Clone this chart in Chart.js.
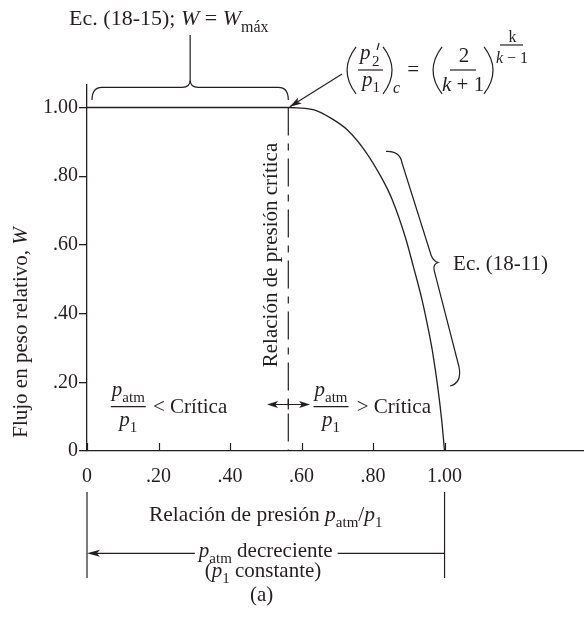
<!DOCTYPE html>
<html>
<head>
<meta charset="utf-8">
<script src="https://cdn.jsdelivr.net/npm/chart.js@4/dist/chart.umd.min.js"></script>
<style>
  html, body { margin: 0; padding: 0; background: #fff; }
  #wrap { width: 584px; height: 618px; position: relative; }
</style>
</head>
<body>
<div id="wrap"><canvas id="flow-chart"></canvas></div>
<script>
// ─── DATA ───────────────────────────────────────────────────────────────────────
var xTickValues = [0, 0.2, 0.4, 0.6, 0.8, 1.0];
var xTickLabels = ['0', '.20', '.40', '.60', '.80', '1.00'];
var yTickValues = [0, 0.2, 0.4, 0.6, 0.8, 1.0];
var yTickLabels = ['0', '.20', '.40', '.60', '.80', '1.00'];
var criticalRatio = 0.563;
// pressure ratio p_atm/p1 and relative weight flow W
var pressureRatio = [0, 0.563, 0.589, 0.635, 0.682, 0.729, 0.776, 0.824, 0.854, 0.891, 0.913, 0.937, 0.955, 0.967, 0.981, 0.992, 1.0];
var relativeFlow = [1, 1, 0.999, 0.993, 0.969, 0.934, 0.876, 0.795, 0.731, 0.620, 0.536, 0.440, 0.352, 0.285, 0.186, 0.090, 0];

var INK = '#231f20';
var SERIF = '"Liberation Serif", "Times New Roman", serif';
var TEXT = 21;

// ─── TEXT HELPERS ───────────────────────────────────────────────────────────────
function fontOf(size, italic) {
    return (italic ? 'italic ' : '') + size + 'px ' + SERIF;
}
function T(t) { return { t: t }; }
function I(t) { return { t: t, i: true }; }
function S(t) { return { t: t, s: true }; }
function runSize(r, size) { return r.s ? Math.round(size * 0.72) : size; }
function runsWidth(ctx, runs, size) {
    var w = 0;
    runs.forEach(function (r) {
        ctx.font = fontOf(runSize(r, size), r.i);
        w += ctx.measureText(r.t).width;
    });
    return w;
}
function drawRuns(ctx, x, y, runs, size, align) {
    var w = runsWidth(ctx, runs, size);
    var cx = align === 'center' ? x - w / 2 : (align === 'right' ? x - w : x);
    ctx.textAlign = 'left';
    ctx.textBaseline = 'alphabetic';
    runs.forEach(function (r) {
        ctx.font = fontOf(runSize(r, size), r.i);
        ctx.fillText(r.t, cx, y + (r.s ? size * 0.3 : 0));
        cx += ctx.measureText(r.t).width;
    });
    return w;
}
function line(ctx, x1, y1, x2, y2) {
    ctx.beginPath();
    ctx.moveTo(x1, y1);
    ctx.lineTo(x2, y2);
    ctx.stroke();
}
function arrowHead(ctx, x1, y1, x2, y2, len, half) {
    var a = Math.atan2(y2 - y1, x2 - x1);
    var bx = x2 - len * Math.cos(a), by = y2 - len * Math.sin(a);
    ctx.beginPath();
    ctx.moveTo(x2, y2);
    ctx.lineTo(bx + half * Math.sin(a), by - half * Math.cos(a));
    ctx.lineTo(bx + len * 0.25 * Math.cos(a), by + len * 0.25 * Math.sin(a));
    ctx.lineTo(bx - half * Math.sin(a), by + half * Math.cos(a));
    ctx.closePath();
    ctx.fill();
}
// x0 = outermost point of the bow, x1 = x of the two ends
function paren(ctx, x0, x1, top, bottom) {
    ctx.beginPath();
    ctx.moveTo(x1, top);
    ctx.quadraticCurveTo(2 * x0 - x1, (top + bottom) / 2, x1, bottom);
    ctx.stroke();
}
function fraction(ctx, cx, barY, numRuns, denRuns) {
    var w = Math.max(runsWidth(ctx, numRuns, TEXT), runsWidth(ctx, denRuns, TEXT)) + 2;
    drawRuns(ctx, cx, barY - 11, numRuns, TEXT, 'center');
    drawRuns(ctx, cx, barY + 19, denRuns, TEXT, 'center');
    line(ctx, cx - w / 2, barY, cx + w / 2, barY);
    return w;
}

// ─── ANNOTATIONS ────────────────────────────────────────────────────────────────
var annotations = {
    id: 'annotations',
    afterDraw: function (chart) {
        var ctx = chart.ctx;
        var xs = chart.scales.x, ys = chart.scales.y;
        var X = function (v) { return xs.getPixelForValue(v); };
        var Y = function (v) { return ys.getPixelForValue(v); };
        ctx.save();
        ctx.fillStyle = INK;
        ctx.strokeStyle = INK;
        ctx.lineWidth = 1.2;

        // inward ticks on the x axis
        xTickValues.forEach(function (v) {
            line(ctx, Math.round(X(v)) + 0.5, Y(0), Math.round(X(v)) + 0.5, Y(0) - 8);
        });

        // top label and brace over the constant-flow part
        drawRuns(ctx, X(-0.05), Y(1.240), [T('Ec. (18-15); '), I('W'), T(' = '), I('W'), S('máx')], 22, 'left');
        var bx1 = X(0.014), bx2 = X(criticalRatio), bm = (bx1 + bx2) / 2;
        var bEnd = Y(1.0218), bMid = Y(1.0588), bTip = Y(1.080);
        ctx.beginPath();
        ctx.moveTo(bx1, bEnd);
        ctx.quadraticCurveTo(bx1, bMid, bx1 + 10, bMid);
        ctx.lineTo(bm - 8, bMid);
        ctx.quadraticCurveTo(bm, bMid, bm, bTip);
        ctx.quadraticCurveTo(bm, bMid, bm + 8, bMid);
        ctx.lineTo(bx2 - 10, bMid);
        ctx.quadraticCurveTo(bx2, bMid, bx2, bEnd);
        ctx.stroke();
        line(ctx, bm, bTip, bm, Y(1.211));

        // critical ratio formula
        var ax = X(0.7273), ay = Y(1.1092);
        paren(ctx, ax, ax + 9, ay - 23, ay + 24);
        drawRuns(ctx, ax + 13, ay - 10.5, [I('p')], TEXT, 'left');
        drawRuns(ctx, ax + 25, ay - 10.5, [S('2')], TEXT, 'left');
        line(ctx, ax + 32, ay - 27, ax + 30, ay - 20);
        line(ctx, ax + 11, ay, ax + 36, ay);
        drawRuns(ctx, ax + 15, ay + 16, [I('p'), S('1')], TEXT, 'left');
        paren(ctx, ax + 45, ax + 36, ay - 23, ay + 24);
        drawRuns(ctx, ax + 46, ay + 23, [I('c')], 16, 'left');
        drawRuns(ctx, ax + 66, ay + 6, [T('=')], TEXT, 'center');
        paren(ctx, ax + 86, ax + 95, ay - 23, ay + 24);
        drawRuns(ctx, ax + 117, ay - 8, [T('2')], TEXT, 'center');
        line(ctx, ax + 103, ay, ax + 129, ay);
        drawRuns(ctx, ax + 116, ay + 21, [I('k'), T(' + 1')], TEXT, 'center');
        paren(ctx, ax + 146, ax + 137, ay - 23, ay + 24);
        drawRuns(ctx, ax + 165.5, ay - 28, [T('k')], 16, 'center');
        line(ctx, ax + 153, ay - 25, ax + 176, ay - 25);
        drawRuns(ctx, ax + 165, ay - 7, [I('k'), T(' \u2212 1')], 16, 'center');

        // arrow from formula to the critical point
        var fx1 = X(0.7133), fy1 = Y(1.0975), fx2 = X(criticalRatio) + 1.5, fy2 = Y(1.002);
        line(ctx, fx1, fy1, fx2, fy2);
        arrowHead(ctx, fx1, fy1, fx2, fy2, 12, 3.5);

        // rotated labels
        ctx.save();
        ctx.translate(X(0.530), Y(0.5706));
        ctx.rotate(-Math.PI / 2);
        drawRuns(ctx, 0, 0, [T('Relación de presión crítica')], TEXT, 'center');
        ctx.restore();
        ctx.save();
        ctx.translate(X(-0.169), Y(0.345));
        ctx.rotate(-Math.PI / 2);
        drawRuns(ctx, 0, 0, [T('Flujo en peso relativo, '), I('W')], TEXT, 'center');
        ctx.restore();

        // sub- and super-critical labels
        var fy = Y(0.129);
        fraction(ctx, X(0.1155), fy, [I('p'), S('atm')], [I('p'), S('1')]);
        drawRuns(ctx, X(0.1846), fy + 6.6, [T('< Crítica')], TEXT, 'left');
        fraction(ctx, X(0.6825), fy, [I('p'), S('atm')], [I('p'), S('1')]);
        drawRuns(ctx, X(0.7544), fy + 6.6, [T('> Crítica')], TEXT, 'left');
        var dy = Y(0.1354), dx1 = X(0.5035), dx2 = X(0.6238);
        line(ctx, dx1 + 4, dy, dx2 - 4, dy);
        arrowHead(ctx, dx2, dy, dx1, dy, 11, 3.5);
        arrowHead(ctx, dx1, dy, dx2, dy, 11, 3.5);
        line(ctx, X(criticalRatio), dy - 5, X(criticalRatio), dy + 5);

        // brace along the falling curve
        var tx = X(0.9818), ty = Y(0.5488);
        ctx.beginPath();
        ctx.moveTo(tx - 52, ty - 111);
        ctx.quadraticCurveTo(tx - 38, ty - 111.5, tx - 36, ty - 99.5);
        ctx.lineTo(tx - 7, ty - 7.5);
        ctx.quadraticCurveTo(tx - 5, ty - 1.5, tx, ty);
        ctx.quadraticCurveTo(tx - 5, ty + 1.5, tx - 4, ty + 7.5);
        ctx.lineTo(tx + 21, ty + 104.5);
        ctx.quadraticCurveTo(tx + 24, ty + 120.5, tx + 12, ty + 123.5);
        ctx.stroke();
        drawRuns(ctx, X(1.0238), Y(0.527), [T('Ec. (18-11)')], TEXT, 'left');

        // lower explanation block
        var vTop = Y(-0.1194), vBot = Y(-0.3697);
        line(ctx, X(0), vTop, X(0), vBot);
        line(ctx, X(1), vTop, X(1), vBot);
        drawRuns(ctx, X(0.5), Y(-0.203), [T('Relación de presión '), I('p'), S('atm'), T('/'), I('p'), S('1')], 21.5, 'center');
        var ly = Y(-0.2978);
        var tw = drawRuns(ctx, X(0.5), Y(-0.3077), [I('p'), S('atm'), T(' decreciente')], TEXT, 'center');
        line(ctx, X(0) + 6, ly, X(0.5) - tw / 2 - 4, ly);
        line(ctx, X(0.5) + tw / 2 + 5, ly, X(1), ly);
        arrowHead(ctx, X(0) + 20, ly, X(0), ly, 13, 3.5);
        drawRuns(ctx, X(0.4923), Y(-0.366), [T('('), I('p'), S('1'), T(' constante)')], TEXT, 'center');
        drawRuns(ctx, X(0.4886), Y(-0.4367), [T('(a)')], TEXT, 'center');

        ctx.restore();
    }
};

// ─── CHART ──────────────────────────────────────────────────────────────────────
var ctx = document.getElementById('flow-chart').getContext('2d');
var chart = new Chart(ctx, {
    type: 'line',
    data: {
        datasets: [{
            data: pressureRatio.map(function (x, i) { return { x: x, y: relativeFlow[i] }; }),
            borderColor: INK,
            borderWidth: 1.3,
            pointRadius: 0,
            fill: false,
            cubicInterpolationMode: 'monotone'
        }, {
            data: [{ x: criticalRatio, y: 1 }, { x: criticalRatio, y: 0 }],
            borderColor: INK,
            borderWidth: 1.2,
            borderDash: [28, 8, 7, 8],
            pointRadius: 0,
            fill: false
        }]
    },
    options: {
        responsive: true,
        maintainAspectRatio: false,
        animation: false,
        layout: { padding: { top: 85, left: 0, right: 0, bottom: 0 } },
        plugins: { legend: { display: false }, tooltip: { enabled: false } },
        scales: {
            x: {
                type: 'linear',
                min: 0,
                max: 1.39,
                afterBuildTicks: function (s) { s.ticks = xTickValues.map(function (v) { return { value: v }; }); },
                afterFit: function (s) { s.height = 167; },
                grid: { drawOnChartArea: false, drawTicks: false },
                border: { display: true, color: INK, width: 1.3 },
                ticks: {
                    callback: function (v) { return xTickLabels[xTickValues.indexOf(v)]; },
                    color: INK,
                    font: { family: SERIF, size: 20 },
                    padding: 14,
                    maxRotation: 0,
                    autoSkip: false
                }
            },
            y: {
                type: 'linear',
                min: 0,
                max: 1.0655,
                afterBuildTicks: function (s) { s.ticks = yTickValues.map(function (v) { return { value: v }; }); },
                afterFit: function (s) { s.width = 87; },
                grid: { drawOnChartArea: false, drawTicks: true, tickLength: 8, color: INK, lineWidth: 1.3 },
                border: { display: true, color: INK, width: 1.3 },
                ticks: {
                    callback: function (v) { return yTickLabels[yTickValues.indexOf(v)]; },
                    color: INK,
                    font: { family: SERIF, size: 20 },
                    padding: 1
                }
            }
        }
    },
    plugins: [annotations]
});
</script>
</body>
</html>
